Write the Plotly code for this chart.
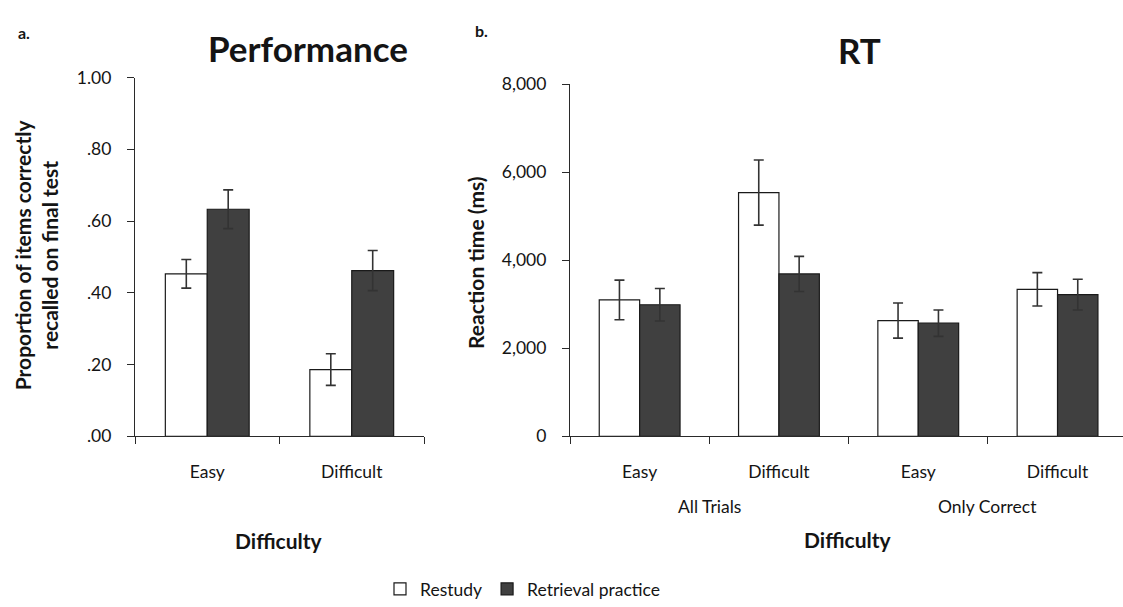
import plotly.graph_objects as go

# ---- data ----
perf_difficulty = ["Easy", "Difficult"]
perf_restudy = [0.453, 0.186]
perf_restudy_err = [0.040, 0.044]
perf_retrieval = [0.633, 0.462]
perf_retrieval_err = [0.054, 0.056]

rt_condition = ["All Trials", "Only Correct"]
rt_difficulty = ["Easy", "Difficult", "Easy", "Difficult"]
rt_restudy = [3100, 5540, 2630, 3340]
rt_restudy_err = [450, 740, 400, 380]
rt_retrieval = [2990, 3690, 2570, 3220]
rt_retrieval_err = [370, 400, 300, 350]

perf_ticks = [0, 0.2, 0.4, 0.6, 0.8, 1.0]
perf_ticktext = [".00", ".20", ".40", ".60", ".80", "1.00"]
rt_ticks = [0, 2000, 4000, 6000, 8000]

FONT = "Lato"
WHITE = "#ffffff"
DARK = "#404040"
EDGE = "#1a1a1a"
ERR = "#333333"
TXT = "#141414"

fig = go.Figure()

px_l = list(range(len(perf_difficulty)))
px_r = list(range(len(rt_difficulty)))

fig.add_trace(go.Bar(
    x=px_l, y=perf_restudy, name="Restudy", legendgroup="r", offsetgroup="r",
    marker=dict(color=WHITE, line=dict(color=EDGE, width=1.2)),
    error_y=dict(type="data", array=perf_restudy_err, color=ERR, thickness=1.6, width=5),
    xaxis="x", yaxis="y"))
fig.add_trace(go.Bar(
    x=px_l, y=perf_retrieval, name="Retrieval practice", legendgroup="p", offsetgroup="p",
    marker=dict(color=DARK, line=dict(color=EDGE, width=1.2)),
    error_y=dict(type="data", array=perf_retrieval_err, color=ERR, thickness=1.6, width=5),
    xaxis="x", yaxis="y"))
fig.add_trace(go.Bar(
    x=px_r, y=rt_restudy, name="Restudy", legendgroup="r", offsetgroup="r", showlegend=False,
    marker=dict(color=WHITE, line=dict(color=EDGE, width=1.2)),
    error_y=dict(type="data", array=rt_restudy_err, color=ERR, thickness=1.6, width=5),
    xaxis="x2", yaxis="y2"))
fig.add_trace(go.Bar(
    x=px_r, y=rt_retrieval, name="Retrieval practice", legendgroup="p", offsetgroup="p", showlegend=False,
    marker=dict(color=DARK, line=dict(color=EDGE, width=1.2)),
    error_y=dict(type="data", array=rt_retrieval_err, color=ERR, thickness=1.6, width=5),
    xaxis="x2", yaxis="y2"))

W, H = 1123, 607
def fx(px):
    return px / W
def fy(py):
    return (H - py) / H

TICKSIZE = 17.5
axis_common = dict(showgrid=False, zeroline=False, showline=True, linecolor="#2a2a2a",
                   linewidth=1.3, tickfont=dict(family=FONT, size=TICKSIZE, color=TXT))

# right panel: category pitch ~139.3 px starting at x=570, running to the right edge
R_X0, R_PITCH = 570, 139.3
r_range_end = -0.5 + (W - R_X0) / R_PITCH

fig.update_layout(
    width=W, height=H, margin=dict(l=0, r=0, t=0, b=0),
    plot_bgcolor="white", paper_bgcolor="white",
    barmode="group", bargap=0.42, bargroupgap=0,
    font=dict(family=FONT, color=TXT),
    xaxis=dict(domain=[fx(135), fx(424)], range=[-0.5, len(px_l) - 0.5], anchor="y",
               tickmode="array", tickvals=px_l, ticktext=perf_difficulty, ticks="",
               ticklabelstandoff=20,
               minor=dict(tickmode="array", tickvals=[i - 0.5 for i in range(len(px_l) + 1)],
                          ticks="outside", ticklen=7, tickcolor="#2a2a2a", tickwidth=1.3),
               **axis_common),
    yaxis=dict(domain=[fy(440.5), fy(69)], range=[0, 1.0], anchor="x",
               tickmode="array", tickvals=perf_ticks, ticktext=perf_ticktext,
               ticks="outside", ticklen=7, tickcolor="#2a2a2a", tickwidth=1.3,
               ticklabelstandoff=12, **axis_common),
    xaxis2=dict(domain=[fx(R_X0), 1.0], range=[-0.5, r_range_end], anchor="y2",
                tickmode="array", tickvals=px_r, ticktext=rt_difficulty, ticks="",
                ticklabelstandoff=20,
                minor=dict(tickmode="array", tickvals=[i - 0.5 for i in range(len(px_r) + 1)],
                           ticks="outside", ticklen=7, tickcolor="#2a2a2a", tickwidth=1.3),
                **axis_common),
    yaxis2=dict(domain=[fy(440.5), fy(76)], range=[0, 8000], anchor="x2",
                tickmode="array", tickvals=rt_ticks, tickformat=",",
                ticks="outside", ticklen=7, tickcolor="#2a2a2a", tickwidth=1.3,
                ticklabelstandoff=12, **axis_common),
    legend=dict(orientation="h", x=fx(380), xanchor="left", y=fy(599), yanchor="middle",
                font=dict(family=FONT, size=17.5, color=TXT), traceorder="normal",
                itemwidth=30, tracegroupgap=0),
    showlegend=True,
)

ann = []
def add(text, x, y, size, bold=False, angle=0):
    ann.append(dict(text=f"<b>{text}</b>" if bold else text, x=fx(x), y=fy(y),
                    xref="paper", yref="paper", showarrow=False, textangle=angle,
                    font=dict(family=FONT, size=size, color=TXT),
                    xanchor="center", yanchor="middle"))

add("a.", 24, 22, 16, bold=True)
add("b.", 481, 20, 16, bold=True)
add("Performance", 308, 38, 35, bold=True)
add("RT", 859, 40, 35, bold=True)
add("Proportion of items correctly<br>recalled on final test", 36, 253, 21, bold=True, angle=-90)
add("Reaction time (ms)", 476, 261, 21, bold=True, angle=-90)
add("Difficulty", 279, 548, 21, bold=True)
add("Difficulty", 848, 547, 21, bold=True)
# group labels under RT categories (centered on the boundary between each pair)
for i, cond in enumerate(rt_condition):
    xpix = R_X0 + (2 * i + 1) * R_PITCH
    add(cond, xpix, 513, TICKSIZE)
fig.update_layout(annotations=ann)

fig.write_html("out.html")
